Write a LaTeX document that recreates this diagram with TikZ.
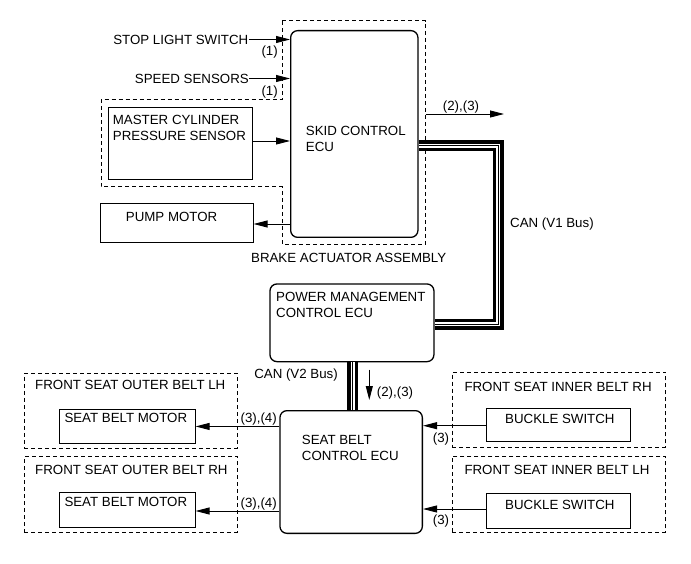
\documentclass[tikz,border=0pt]{standalone}
\usepackage{fontspec}
\setmainfont{Liberation Sans}
\usetikzlibrary{arrows.meta}

\begin{document}
\begin{tikzpicture}[
		x=1pt, y=-1pt,
		font=\fontsize{13.3}{16}\selectfont,
		box/.style={draw, line width=0.9pt, anchor=north west, inner sep=0pt},
		ecu/.style={box, line width=1.3pt, rounded corners=7pt},
		dashbox/.style={box, dash pattern=on 4pt off 3pt},
		txt/.style={inner sep=0pt},
		mtxt/.style={txt, align=left},
		arrow/.style={-{Triangle[length=14pt,width=7pt]}, line width=0.9pt},
		busouter/.style={line width=3.5pt, double=white, double distance=4pt, line join=miter},
		businner/.style={line width=1pt, line join=miter}
		]
		\useasboundingbox (0,0) rectangle (691,564);
		
		% brake actuator assembly
		\draw[dash pattern=on 4pt off 3pt, line width=0.9pt]
		(282,20.7) -- (425.7,20.7) -- (425.7,244) -- (282,244) -- (282,186.7)
		-- (101,186.7) -- (101,99.3) -- (282,99.3) -- cycle;
		\node[txt, anchor=north] (brake) at (348.7,253.3) {BRAKE ACTUATOR ASSEMBLY};
		
		\node[ecu, minimum width=127.3pt, minimum height=206.7pt] (skid) at (290,30) {};
		\node[mtxt, anchor=north west] (skidlab) at (305.7,125.7) {SKID CONTROL\\ECU};
		
		\node[box, minimum width=144.6pt, minimum height=71.7pt] (master) at (107.7,107.3) {};
		\node[mtxt, anchor=north west] (masterlab) at (112.7,115) {MASTER CYLINDER\\PRESSURE SENSOR};
		
		\node[box, minimum width=152.7pt, minimum height=39pt] (pump) at (100,203.3) {};
		\node[txt, anchor=north west] (pumplab) at (125.7,212.3) {PUMP MOTOR};
		
		\node[txt, anchor=east] (stop) at (248.5,39.5) {STOP LIGHT SWITCH};
		\node[txt, anchor=east] (speed) at (249,78.5) {SPEED SENSORS};
		\node[txt, anchor=east] (in1a) at (278,52.5) {(1)};
		\node[txt, anchor=east] (in1b) at (278,92.3) {(1)};
		
		\draw[arrow] (stop.east) -- (stop.east -| skid.west);
		\draw[arrow] (speed.east) -- (speed.east -| skid.west);
		\draw[arrow] (master.east |- 0,141) -- (skid.west |- 0,141);
		\draw[arrow] (skid.west |- 0,224) -- (pump.east |- 0,224);
		
		\coordinate (out23) at (425.7,114);
		\coordinate (out23end) at (504,114);
		\draw[arrow] (out23) -- (out23end);
		\node[txt] (out23lab) at (461,107.2) {(2),(3)};
		
		% power management and buses
		\node[ecu, minimum width=164pt, minimum height=77.7pt] (pm) at (269.3,283.3) {};
		\node[mtxt, anchor=north west] (pmlab) at (276,291.7) {POWER MANAGEMENT\\CONTROL ECU};
		
		\node[ecu, minimum width=142.4pt, minimum height=122.7pt] (sbecu) at (279.3,410) {};
		\node[mtxt, anchor=north west] (sbeculab) at (301.7,435.3) {SEAT BELT\\CONTROL ECU};
		
		\foreach \s in {busouter, businner}
		\draw[\s] (skid.east |- 0,146) -- (498,146) -- (498,324) -- (pm.east |- 0,324);
		\node[txt, anchor=west] (v1) at (510,224.2) {CAN (V1 Bus)};
		
		\foreach \s in {busouter, businner}
		\draw[\s] (pm.south -| 352.5,0) -- (sbecu.north -| 352.5,0);
		\node[txt, anchor=east] (v2) at (338,374.7) {CAN (V2 Bus)};
		
		\coordinate (down23) at (369.3,369.5);
		\coordinate (down23end) at (369.3,400);
		\draw[arrow] (down23) -- (down23end);
		\node[txt, anchor=west] (down23lab) at (376.7,393.2) {(2),(3)};
		
		% front seat outer belts
		\node[dashbox, minimum width=212.7pt, minimum height=75pt] (olh) at (24,372.7) {};
		\node[txt, anchor=north west] (olhlab) at (35,380) {FRONT SEAT OUTER BELT LH};
		\node[box, minimum width=135.4pt, minimum height=34.6pt] (mlh) at (59.3,408.7) {};
		\node[txt, anchor=north west] (mlhlab) at (64.3,413.3) {SEAT BELT MOTOR};
		\draw[arrow] (sbecu.west |- mlh.east) -- (mlh.east);
		\node[txt, anchor=east] (mlhsig) at (277,418.8) {(3),(4)};
		
		\node[dashbox, minimum width=212.7pt, minimum height=75.7pt] (orh) at (24,456) {};
		\node[txt, anchor=north west] (orhlab) at (35,465) {FRONT SEAT OUTER BELT RH};
		\node[box, minimum width=135.4pt, minimum height=34.4pt] (mrh) at (59.3,492.3) {};
		\node[txt, anchor=north west] (mrhlab) at (64.3,496.7) {SEAT BELT MOTOR};
		\draw[arrow] (sbecu.west |- 0,511) -- (mrh.east |- 0,511);
		\node[txt, anchor=east] (mrhsig) at (277,503.7) {(3),(4)};
		
		% front seat inner belts
		\node[dashbox, minimum width=213.3pt, minimum height=75pt] (irh) at (451.7,371.7) {};
		\node[txt, anchor=north west] (irhlab) at (464.3,381.7) {FRONT SEAT INNER BELT RH};
		\node[box, minimum width=144.3pt, minimum height=33.3pt] (brh) at (485.7,407.7) {};
		\node[txt, anchor=north west] (brhlab) at (505,414.3) {BUCKLE SWITCH};
		\draw[arrow] (brh.west |- 0,425.7) -- (sbecu.east |- 0,425.7);
		\node[txt, anchor=west] (brhsig) at (432.7,439.5) {(3)};
		
		\node[dashbox, minimum width=213.3pt, minimum height=75.7pt] (ilh) at (451.7,456) {};
		\node[txt, anchor=north west] (ilhlab) at (464.3,465) {FRONT SEAT INNER BELT LH};
		\node[box, minimum width=144.3pt, minimum height=34.4pt] (blh) at (485.7,493.3) {};
		\node[txt, anchor=north west] (blhlab) at (505,500) {BUCKLE SWITCH};
		\draw[arrow] (blh.west |- 0,509) -- (sbecu.east |- 0,509);
		\node[txt, anchor=west] (blhsig) at (432.7,521.3) {(3)};
		
	\end{tikzpicture}
\end{document}
